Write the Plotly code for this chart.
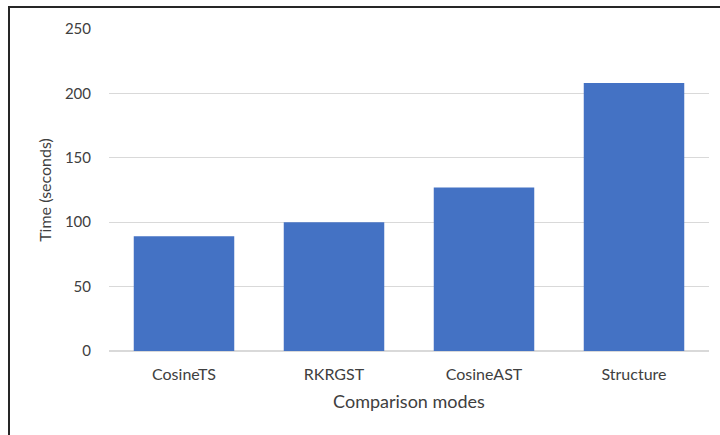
import plotly.graph_objects as go

# Run time per comparison mode
modes = ["CosineTS", "RKRGST", "CosineAST", "Structure"]
times = [89, 100, 127, 208]
y_ticks = [0, 50, 100, 150, 200, 250]

W, H = 720, 435
L, R, T, B = 109, 11, 29, 84
pw, ph = W - L - R, H - T - B

def px_x(px):
    return (px - L) / pw

def px_y(py):
    return (H - B - py) / ph

font_family = "Lato, 'Open Sans', sans-serif"
text_color = "#404040"

fig = go.Figure(
    go.Bar(
        x=modes,
        y=times,
        marker=dict(color="#4472C4", line=dict(width=0)),
        hoverinfo="x+y",
    )
)

fig.update_layout(
    width=W,
    height=H,
    margin=dict(l=L, r=R, t=T, b=B, pad=0),
    paper_bgcolor="white",
    plot_bgcolor="white",
    bargap=0.33,
    showlegend=False,
    font=dict(family=font_family, color=text_color, size=15),
    xaxis=dict(
        title=dict(text="Comparison modes", font=dict(size=18, color=text_color), standoff=13),
        showgrid=False,
        showline=False,
        ticks="",
        ticklabelstandoff=12,
        tickfont=dict(size=16, color=text_color),
    ),
    yaxis=dict(
        title=dict(text="Time (seconds)", font=dict(size=16, color=text_color), standoff=9),
        range=[0, 250],
        tickvals=y_ticks,
        showgrid=True,
        gridcolor="#d9d9d9",
        gridwidth=1,
        zeroline=True,
        zerolinecolor="#d9d9d9",
        zerolinewidth=1.5,
        showline=False,
        ticks="",
        ticklabelstandoff=17,
        tickfont=dict(size=15, color=text_color),
    ),
    shapes=[
        dict(
            type="rect",
            xref="paper",
            yref="paper",
            x0=px_x(9),
            x1=px_x(730),
            y0=px_y(445),
            y1=px_y(7),
            line=dict(color="#262626", width=2),
            fillcolor="rgba(0,0,0,0)",
            layer="below",
        )
    ],
)

fig.write_html("out.html")
